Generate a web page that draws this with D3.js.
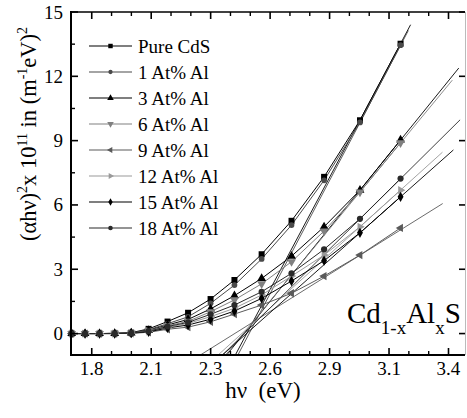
<!DOCTYPE html>
<html><head><meta charset="utf-8">
<script src="https://cdn.jsdelivr.net/npm/d3@7"></script>
<style>
body{margin:0;background:#fff}
svg{display:block}
</style>
</head><body>
<svg id="chart" width="467" height="418" font-family="'Liberation Serif', 'DejaVu Serif', serif"></svg>
<script>
// ---------- data ----------
const energy = [1.71, 1.77, 1.835, 1.903, 1.977, 2.055, 2.14, 2.232, 2.333, 2.44, 2.562, 2.696, 2.842, 3.003, 3.185];
const seriesNames = ["Pure CdS", "1 At% Al", "3 At% Al", "6 At% Al", "9 At% Al", "12 At% Al", "15 At% Al", "18 At% Al"];
const pureCdS = [0, 0, 0, 0.01, 0.04, 0.22, 0.56, 0.97, 1.61, 2.50, 3.70, 5.26, 7.31, 9.95, 13.52];
const al1     = [0, 0, 0, 0.01, 0.03, 0.18, 0.46, 0.78, 1.41, 2.26, 3.48, 5.06, 7.15, 9.85, 13.45];
const al3     = [0, 0, 0, 0.01, 0.03, 0.15, 0.40, 0.66, 1.15, 1.77, 2.57, 3.61, 4.98, 6.69, 9.03];
const al6     = [0, 0, 0, 0.01, 0.02, 0.13, 0.36, 0.57, 1.02, 1.57, 2.32, 3.35, 4.78, 6.60, 8.90];
const al9     = [0, 0, 0, 0, 0.01, 0.06, 0.20, 0.30, 0.55, 0.91, 1.33, 1.88, 2.68, 3.66, 4.93];
const al12    = [0, 0, 0, 0, 0.02, 0.10, 0.30, 0.47, 0.79, 1.18, 1.80, 2.68, 3.66, 4.98, 6.69];
const al15    = [0, 0, 0, 0, 0.02, 0.08, 0.26, 0.40, 0.67, 1.05, 1.64, 2.45, 3.40, 4.70, 6.38];
const al18    = [0, 0, 0, 0, 0.02, 0.11, 0.33, 0.52, 0.90, 1.33, 1.95, 2.81, 3.93, 5.35, 7.23];
// linear fits (Tauc extrapolation): slope, band gap (x-intercept), end of drawn line
const fitSlope = [19.6, 19.8, 12.86, 12.6, 6.5, 9.4, 9.23, 10.3];
const fitEg    = [2.495, 2.506, 2.483, 2.479, 2.441, 2.473, 2.494, 2.484];
const fitEnd   = [3.23, 3.22, 3.446, 3.417, 3.374, 3.373, 3.422, 3.452];
const xTicks = [1.8, 2.0667, 2.3333, 2.6, 2.8667, 3.1333, 3.4];
const xTickLabels = ["1.8", "2.1", "2.3", "2.6", "2.9", "3.1", "3.4"];
const yTicks = [0, 3, 6, 9, 12, 15];
const yTickLabels = ["0", "3", "6", "9", "12", "15"];

// ---------- style ----------
const FONT = "'Liberation Serif', 'DejaVu Serif', serif";
const allSeries = [pureCdS, al1, al3, al6, al9, al12, al15, al18];
const colors = ["#000", "#4a4a4a", "#000", "#808080", "#5a5a5a", "#9a9a9a", "#000", "#2a2a2a"];
const rot = [0, 0, 0, 180, -90, 90, 0, 0];
const symTypes = [d3.symbolSquare, d3.symbolCircle, d3.symbolTriangle, d3.symbolTriangle, d3.symbolTriangle, d3.symbolTriangle, d3.symbolDiamond, d3.symbolCircle];
const symSize = [36, 26, 34, 34, 30, 30, 30, 30];

const svg = d3.select("#chart");
const L = 71, R = 465, T = 12, B = 355;
const x = d3.scaleLinear().domain([1.707, 3.474]).range([L, R]);
const y = d3.scaleLinear().domain([-1, 15]).range([B, T]);

svg.append("clipPath").attr("id", "clip").append("rect")
  .attr("x", L).attr("y", T).attr("width", R - L).attr("height", B - T);
const plot = svg.append("g").attr("clip-path", "url(#clip)");

// fit lines
seriesNames.forEach((n, i) => {
  const x0 = fitEg[i] - 1.2 / fitSlope[i];
  const x1 = fitEnd[i];
  plot.append("line")
    .attr("x1", x(x0)).attr("y1", y(fitSlope[i] * (x0 - fitEg[i])))
    .attr("x2", x(x1)).attr("y2", y(fitSlope[i] * (x1 - fitEg[i])))
    .attr("stroke", colors[i]).attr("stroke-width", 0.9);
});

// data lines + markers
const line = d3.line().x((d, j) => x(energy[j])).y(d => y(d));
allSeries.forEach((s, i) => {
  plot.append("path").attr("d", line(s)).attr("fill", "none")
    .attr("stroke", colors[i]).attr("stroke-width", 1);
});
allSeries.forEach((s, i) => {
  const sym = d3.symbol().type(symTypes[i]).size(symSize[i]);
  svg.append("g").selectAll("path").data(s).join("path")
    .attr("d", sym)
    .attr("transform", (d, j) => `translate(${x(energy[j])},${y(d)}) rotate(${rot[i]})`)
    .attr("fill", colors[i]);
});

// ---------- axes ----------
const ax = svg.append("g");
ax.append("line").attr("x1", L).attr("x2", L).attr("y1", T - 1).attr("y2", B + 1).attr("stroke", "#000").attr("stroke-width", 2);
ax.append("line").attr("x1", L - 1).attr("x2", R).attr("y1", B).attr("y2", B).attr("stroke", "#000").attr("stroke-width", 2);
ax.append("line").attr("x1", L - 1).attr("x2", R).attr("y1", T).attr("y2", T).attr("stroke", "#000").attr("stroke-width", 1.6);
ax.append("line").attr("x1", R + 0.5).attr("x2", R + 0.5).attr("y1", T).attr("y2", B).attr("stroke", "#bbb").attr("stroke-width", 1);

const step = xTicks[1] - xTicks[0];
const xMinor = [];
xTicks.forEach(v => { xMinor.push(v + step / 3, v + 2 * step / 3); });
xMinor.push(xTicks[0] - step / 3);
const xMinorIn = xMinor.filter(v => x(v) > L + 1 && x(v) < R - 1);
xTicks.forEach(v => {
  ax.append("line").attr("x1", x(v)).attr("x2", x(v)).attr("y1", B).attr("y2", B - 7).attr("stroke", "#000").attr("stroke-width", 1.6);
  ax.append("line").attr("x1", x(v)).attr("x2", x(v)).attr("y1", T).attr("y2", T + 7).attr("stroke", "#000").attr("stroke-width", 1.6);
});
xMinorIn.forEach(v => {
  ax.append("line").attr("x1", x(v)).attr("x2", x(v)).attr("y1", B).attr("y2", B - 4).attr("stroke", "#000").attr("stroke-width", 1.4);
  ax.append("line").attr("x1", x(v)).attr("x2", x(v)).attr("y1", T).attr("y2", T + 4).attr("stroke", "#000").attr("stroke-width", 1.4);
});
ax.selectAll("text.xt").data(xTicks).join("text").attr("class", "xt")
  .attr("x", d => x(d)).attr("y", 375).attr("text-anchor", "middle")
  .attr("font-family", FONT).attr("font-size", 19).text((d, i) => xTickLabels[i]);

yTicks.forEach(v => {
  ax.append("line").attr("x1", L).attr("x2", L + 7).attr("y1", y(v)).attr("y2", y(v)).attr("stroke", "#000").attr("stroke-width", 1.6);
  ax.append("line").attr("x1", R).attr("x2", R - 6).attr("y1", y(v)).attr("y2", y(v)).attr("stroke", "#000").attr("stroke-width", 1.6);
});
yTicks.slice(0, -1).forEach(v => {
  const m = v + 1.5;
  ax.append("line").attr("x1", L).attr("x2", L + 4).attr("y1", y(m)).attr("y2", y(m)).attr("stroke", "#000").attr("stroke-width", 1.4);
});
ax.selectAll("text.yt").data(yTicks).join("text").attr("class", "yt")
  .attr("x", 63).attr("y", d => y(d) + 6.5).attr("text-anchor", "end")
  .attr("font-family", FONT).attr("font-size", 19).text((d, i) => yTickLabels[i]);

// axis titles
svg.append("text").attr("x", 263).attr("y", 398).attr("text-anchor", "middle")
  .attr("font-family", FONT).attr("font-size", 23).attr("xml:space", "preserve").text("h\u03bd  (eV)");

const yt = svg.append("text").attr("transform", "translate(36,134) rotate(-90)")
  .attr("text-anchor", "middle").attr("font-family", FONT).attr("font-size", 22.5);
yt.append("tspan").text("(\u03b1h\u03bd)");
yt.append("tspan").attr("font-size", 14).attr("dy", -9).text("2");
yt.append("tspan").attr("dy", 9).text("x 10");
yt.append("tspan").attr("font-size", 14).attr("dy", -9).text("11");
yt.append("tspan").attr("dy", 9).text(" in (m");
yt.append("tspan").attr("font-size", 14).attr("dy", -9).text("-1");
yt.append("tspan").attr("dy", 9).text("eV)");
yt.append("tspan").attr("font-size", 14).attr("dy", -9).text("2");

// compound label
const cl = svg.append("text").attr("x", 347).attr("y", 323).attr("font-family", FONT).attr("font-size", 29);
cl.append("tspan").text("Cd");
cl.append("tspan").attr("font-size", 19).attr("dy", 11).text("1-x");
cl.append("tspan").attr("dy", -11).text("Al");
cl.append("tspan").attr("font-size", 19).attr("dy", 11).text("x");
cl.append("tspan").attr("dy", -11).text("S");

// ---------- legend ----------
const lg = svg.append("g");
seriesNames.forEach((n, i) => {
  const ly = 46 + i * 26;
  lg.append("line").attr("x1", 89).attr("x2", 132).attr("y1", ly).attr("y2", ly)
    .attr("stroke", colors[i]).attr("stroke-width", 1.2);
  lg.append("path").attr("d", d3.symbol().type(symTypes[i]).size(symSize[i] * 0.55))
    .attr("transform", `translate(110.5,${ly}) rotate(${rot[i]})`).attr("fill", colors[i]);
  lg.append("text").attr("x", 138).attr("y", ly + 6.5).attr("font-family", FONT).attr("font-size", 19).text(n);
});
</script>
</body></html>
